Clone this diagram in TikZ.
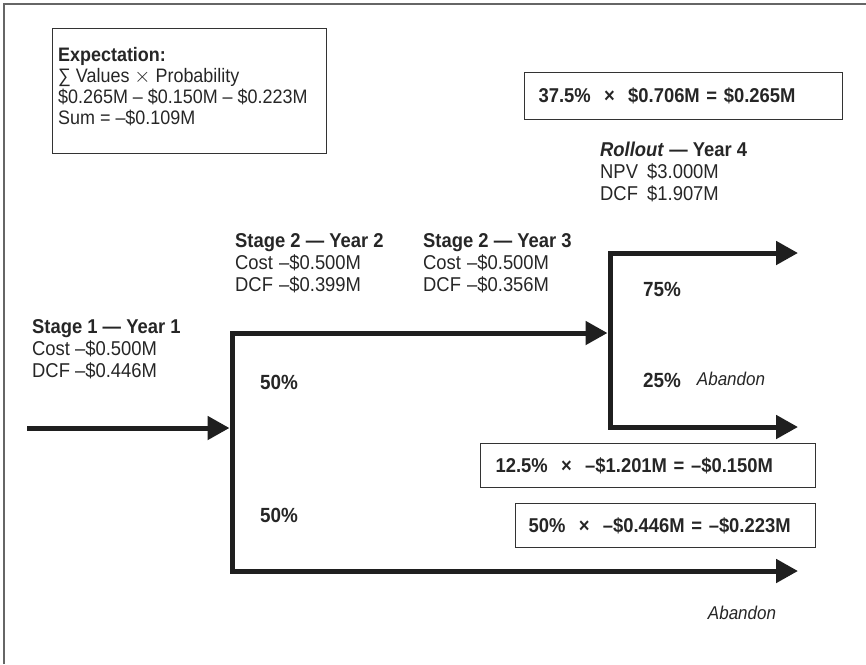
\documentclass[tikz,border=0pt]{standalone}
\usepackage{fontspec}
\setmainfont{Liberation Sans}[FakeStretch=0.92]
\usetikzlibrary{arrows.meta}
\begin{document}
\begin{tikzpicture}[x=1pt,y=-1pt,
  flow/.style={line width=5pt,draw=black!88,-{Triangle[length=22pt,width=23pt]}},
  bar/.style={line width=5pt,draw=black!88,line cap=rect},
  lbl/.style={anchor=base west,inner sep=0pt,text=black!85,font=\fontsize{20}{22}\selectfont},
  pct/.style={inner sep=0pt,text=black!85,font=\fontsize{20.5}{22}\selectfont\bfseries},
  aband/.style={inner sep=0pt,text=black!85,font=\fontsize{18.5}{22}\selectfont\itshape},
  eqbox/.style={draw=black!80,line width=1.3pt,anchor=north west,align=left,inner ysep=0pt,text=black!85,font=\fontsize{20}{22}\selectfont\bfseries},
  plainbox/.style={draw=black!80,line width=1.3pt,anchor=north west,inner sep=0pt},
  framel/.style={draw=black!60,line width=1.5pt}
]
\useasboundingbox (0,0) rectangle (866,664);
% frame
\coordinate (fbl) at (4,664);
\coordinate (ftl) at (4,4);
\coordinate (ftr) at (866,4);
\draw[framel] (fbl) -- (ftl) -- (ftr);

% expectation box
\node[plainbox,minimum width=274pt,minimum height=125pt] (expbox) at (52,28) {};
\node[lbl,font=\fontsize{19.5}{21}\selectfont] (exp) at (58,61)
  {\begin{tabular}[t]{@{}l@{}}\textbf{Expectation:}\\ ∑ Values $\times$ Probability\\ \$0.265M – \$0.150M – \$0.223M\\ Sum = –\$0.109M\end{tabular}};

% equation boxes
\node[eqbox,minimum width=318pt,minimum height=47pt,text width=290pt,inner xsep=14pt] (eq1) at (524,72)
  {\mbox{37.5\%~ × ~\$0.706M = \$0.265M}};
\node[eqbox,minimum width=335pt,minimum height=44pt,text width=305pt,inner xsep=15pt] (eq2) at (480,443)
  {\mbox{12.5\%~ × ~–\$1.201M = –\$0.150M}};
\node[eqbox,minimum width=300pt,minimum height=44pt,text width=274pt,inner xsep=13pt] (eq3) at (515,503)
  {\mbox{50\%~ × ~–\$0.446M = –\$0.223M}};

% stage labels
\node[lbl] (s1) at (32,333) {\begin{tabular}[t]{@{}p{43pt}@{}l@{}}\multicolumn{2}{@{}l@{}}{\textbf{Stage 1 — Year 1}}\\ Cost & –\$0.500M\\ DCF & –\$0.446M\end{tabular}};
\node[lbl] (s2) at (235,247) {\begin{tabular}[t]{@{}p{44pt}@{}l@{}}\multicolumn{2}{@{}l@{}}{\textbf{Stage 2 — Year 2}}\\ Cost & –\$0.500M\\ DCF & –\$0.399M\end{tabular}};
\node[lbl] (s3) at (423,247) {\begin{tabular}[t]{@{}p{44pt}@{}l@{}}\multicolumn{2}{@{}l@{}}{\textbf{Stage 2 — Year 3}}\\ Cost & –\$0.500M\\ DCF & –\$0.356M\end{tabular}};
\node[lbl] (s4) at (600,156) {\begin{tabular}[t]{@{}p{47pt}@{}l@{}}\multicolumn{2}{@{}l@{}}{\textbf{\textit{Rollout} — Year 4}}\\ NPV & \$3.000M\\ DCF & \$1.907M\end{tabular}};

% percentages
\node[pct] (p50a) at (279,382) {50\%};
\node[pct] (p50b) at (279,515) {50\%};
\node[pct] (p75) at (662,289) {75\%};
\node[pct] (p25) at (662,380) {25\%};
\node[aband] (ab1) at (731,379) {Abandon};
\node[aband] (ab2) at (742,613) {Abandon};

% flow lines
\coordinate (in) at (27,428);
\coordinate (j1) at (229.5,428);
\coordinate (j1t) at (232,333);
\coordinate (j1b) at (232,571);
\coordinate (j2in) at (607.5,333);
\coordinate (j2t) at (610,253);
\coordinate (j2b) at (610,427);
\coordinate (e1) at (798,253);
\coordinate (e2) at (798,427);
\coordinate (e3) at (798,571);
\draw[bar] (j1t) -- (j1b);
\draw[bar] (j2t) -- (j2b);
\draw[flow] (in) -- (j1);
\draw[flow] (j1t) -- (j2in);
\draw[flow] (j2t) -- (e1);
\draw[flow] (j2b) -- (e2);
\draw[flow] (j1b) -- (e3);
\end{tikzpicture}
\end{document}
